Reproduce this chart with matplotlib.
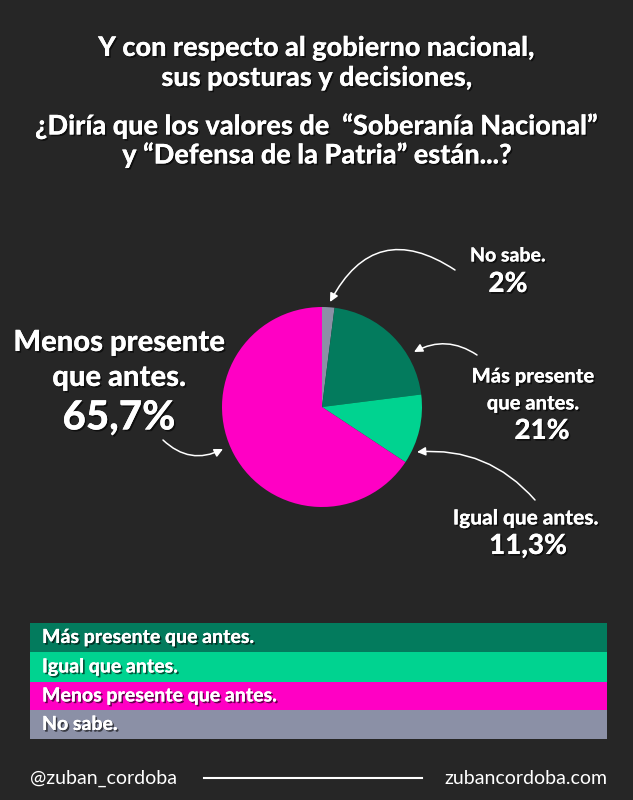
import matplotlib
matplotlib.use("Agg")
import matplotlib.pyplot as plt
import matplotlib.patheffects as pe

# survey answers, in legend order
categories = ["Más presente que antes.", "Igual que antes.",
              "Menos presente que antes.", "No sabe."]
values = [21.0, 11.3, 65.7, 2.0]
value_labels = ["21%", "11,3%", "65,7%", "2%"]
colors = ["#037b5d", "#00d390", "#ff00c4", "#8b90a6"]

# clockwise from 12 o'clock the pie shows No sabe, Más, Igual, Menos
pie_order = [3, 0, 1, 2]

title_lines = ["Y con respecto al gobierno nacional,",
               "sus posturas y decisiones,",
               "¿Diría que los valores de  “Soberanía Nacional”",
               "y “Defensa de la Patria” están...?"]

BG = "#262626"
FONT = "Lato"
W, H = 633, 800

fig = plt.figure(figsize=(W / 100, H / 100), dpi=100, facecolor=BG)
ax = fig.add_axes([0, 0, 1, 1])
ax.set_xlim(0, W)
ax.set_ylim(H, 0)
ax.axis("off")

shadow = [pe.withSimplePatchShadow(offset=(1.2, -1.2), shadow_rgbFace="black", alpha=0.6),
          pe.Normal()]


def txt(x, y, s, size, weight="black", ha="center", fx=True):
    ax.text(x, y, s, fontsize=size, fontweight=weight, color="white", ha=ha,
            va="center", family=FONT, path_effects=shadow if fx else None)


# title
for y, line in zip([48, 78, 126, 155], title_lines):
    txt(317, y, line, 19.5)

# pie
pax = fig.add_axes([222 / W, 1 - 507 / H, 200 / W, 200 / H])
pax.pie([values[i] for i in pie_order], colors=[colors[i] for i in pie_order],
        startangle=90, counterclock=False, radius=1.0)
pax.set_xlim(-1, 1)
pax.set_ylim(-1, 1)
pax.set_aspect("auto")
pax.axis("off")

# slice labels
txt(119, 343, "Menos presente", 21)
txt(119, 378, "que antes.", 21)
txt(119, 418, value_labels[2], 29)

txt(508, 256, "No sabe.", 14)
txt(508, 284, value_labels[3], 20)

txt(533, 376, "Más presente", 14.5)
txt(533, 403, "que antes.", 14.5)
txt(542, 431, value_labels[0], 20)

txt(526, 518, "Igual que antes.", 15)
txt(528, 546, value_labels[1], 20)

# arrows
arrow = dict(arrowstyle="-|>,head_length=0.5,head_width=0.25", color="white", lw=1.1,
             shrinkA=0, shrinkB=0)
ax.annotate("", xy=(330, 302), xytext=(455, 270),
            arrowprops=dict(arrow, connectionstyle="arc3,rad=0.55"))
ax.annotate("", xy=(414, 352), xytext=(477, 355),
            arrowprops=dict(arrow, connectionstyle="arc3,rad=0.3"))
ax.annotate("", xy=(417, 452), xytext=(535, 500),
            arrowprops=dict(arrow, connectionstyle="arc3,rad=0.25"))
ax.annotate("", xy=(223, 449), xytext=(163, 440),
            arrowprops=dict(arrow, connectionstyle="arc3,rad=0.35"))

# legend bands
band_y = [637.5, 667, 696, 724.5]
band_h = [29, 30, 28, 29]
ax.barh(band_y, [577] * 4, left=30, height=band_h, color=colors, edgecolor="none")
for y, c in zip(band_y, categories):
    txt(42, y, c, 14, ha="left")

# footer
txt(30, 778, "@zuban_cordoba", 14, weight="normal", ha="left", fx=False)
txt(607, 778, "zubancordoba.com", 14, weight="normal", ha="right", fx=False)
ax.plot([204, 422], [778, 778], color="white", lw=1.5)

fig.savefig("out.png", dpi=100, facecolor=BG)
